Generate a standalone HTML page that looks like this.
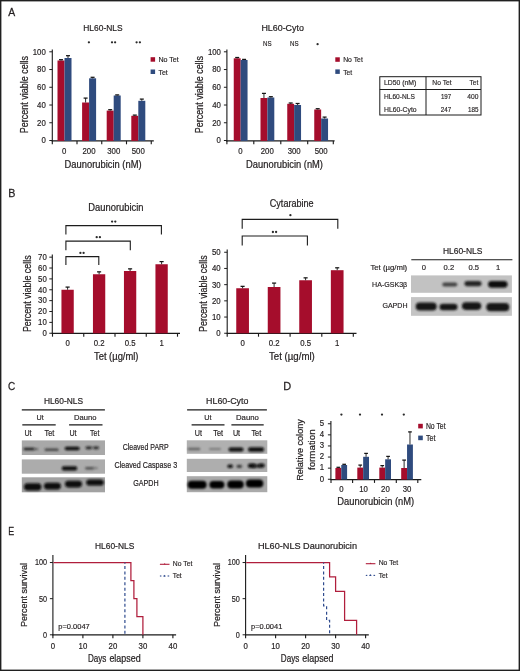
<!DOCTYPE html>
<html><head><meta charset="utf-8"><style>
html,body{margin:0;padding:0;background:#fff;}
svg{display:block;will-change:transform;}
text{font-family:"Liberation Sans",sans-serif;fill:#231f20;stroke:#231f20;}
</style></head><body>
<svg width="520" height="671" viewBox="0 0 520 671">
<defs>
<filter id="bl" x="-30%" y="-80%" width="160%" height="260%"><feGaussianBlur stdDeviation="0.9"/></filter>
<filter id="bl2" x="-30%" y="-80%" width="160%" height="260%"><feGaussianBlur stdDeviation="0.5"/></filter>
</defs>
<rect x="0" y="0" width="520" height="671" fill="#fff"/>
<text x="8.23" y="15.80" font-size="11.8" stroke-width="0.260" textLength="6.95" lengthAdjust="spacingAndGlyphs">A</text>
<text x="8.17" y="196.60" font-size="11.8" stroke-width="0.260" textLength="7.16" lengthAdjust="spacingAndGlyphs">B</text>
<text x="7.94" y="389.80" font-size="11.8" stroke-width="0.260" textLength="7.20" lengthAdjust="spacingAndGlyphs">C</text>
<text x="283.15" y="389.90" font-size="11.8" stroke-width="0.260" textLength="7.94" lengthAdjust="spacingAndGlyphs">D</text>
<text x="8.32" y="534.90" font-size="11.8" stroke-width="0.260" textLength="5.92" lengthAdjust="spacingAndGlyphs">E</text>
<line x1="52.30" y1="49.50" x2="52.30" y2="141.40" stroke="#1a1a1a" stroke-width="1.1"/>
<line x1="49.30" y1="140.50" x2="52.30" y2="140.50" stroke="#1a1a1a" stroke-width="0.9900000000000001"/>
<text x="41.46" y="143.35" font-size="8.3" stroke-width="0.183" textLength="4.34" lengthAdjust="spacingAndGlyphs">0</text>
<line x1="49.30" y1="122.76" x2="52.30" y2="122.76" stroke="#1a1a1a" stroke-width="0.9900000000000001"/>
<text x="37.12" y="125.61" font-size="8.3" stroke-width="0.183" textLength="8.68" lengthAdjust="spacingAndGlyphs">20</text>
<line x1="49.30" y1="105.02" x2="52.30" y2="105.02" stroke="#1a1a1a" stroke-width="0.9900000000000001"/>
<text x="37.12" y="107.87" font-size="8.3" stroke-width="0.183" textLength="8.68" lengthAdjust="spacingAndGlyphs">40</text>
<line x1="49.30" y1="87.28" x2="52.30" y2="87.28" stroke="#1a1a1a" stroke-width="0.9900000000000001"/>
<text x="37.12" y="90.13" font-size="8.3" stroke-width="0.183" textLength="8.68" lengthAdjust="spacingAndGlyphs">60</text>
<line x1="49.30" y1="69.54" x2="52.30" y2="69.54" stroke="#1a1a1a" stroke-width="0.9900000000000001"/>
<text x="37.12" y="72.39" font-size="8.3" stroke-width="0.183" textLength="8.68" lengthAdjust="spacingAndGlyphs">80</text>
<line x1="49.30" y1="51.80" x2="52.30" y2="51.80" stroke="#1a1a1a" stroke-width="0.9900000000000001"/>
<text x="32.79" y="54.65" font-size="8.3" stroke-width="0.183" textLength="13.01" lengthAdjust="spacingAndGlyphs">100</text>
<line x1="51.80" y1="140.90" x2="153.80" y2="140.90" stroke="#1a1a1a" stroke-width="1.25"/>
<line x1="52.30" y1="140.90" x2="52.30" y2="144.30" stroke="#1a1a1a" stroke-width="1.125"/>
<line x1="77.00" y1="140.90" x2="77.00" y2="144.30" stroke="#1a1a1a" stroke-width="1.125"/>
<line x1="101.75" y1="140.90" x2="101.75" y2="144.30" stroke="#1a1a1a" stroke-width="1.125"/>
<line x1="126.50" y1="140.90" x2="126.50" y2="144.30" stroke="#1a1a1a" stroke-width="1.125"/>
<line x1="151.25" y1="140.90" x2="151.25" y2="144.30" stroke="#1a1a1a" stroke-width="1.125"/>
<text x="62.08" y="154.20" font-size="8.3" stroke-width="0.183" textLength="4.34" lengthAdjust="spacingAndGlyphs">0</text>
<text x="82.49" y="154.20" font-size="8.3" stroke-width="0.183" textLength="13.01" lengthAdjust="spacingAndGlyphs">200</text>
<text x="107.24" y="154.20" font-size="8.3" stroke-width="0.183" textLength="13.01" lengthAdjust="spacingAndGlyphs">300</text>
<text x="131.74" y="154.20" font-size="8.3" stroke-width="0.183" textLength="13.01" lengthAdjust="spacingAndGlyphs">500</text>
<text x="64.60" y="167.70" font-size="10.01" stroke-width="0.220" textLength="77.00" lengthAdjust="spacingAndGlyphs">Daunorubicin (nM)</text>
<text x="28.00" y="133.20" font-size="10.16" stroke-width="0.224" textLength="77.30" lengthAdjust="spacingAndGlyphs" transform="rotate(-90 28.00 133.20)">Percent viable cells</text>
<text x="83.30" y="30.70" font-size="9.71" stroke-width="0.214" textLength="39.30" lengthAdjust="spacingAndGlyphs">HL60-NLS</text>
<rect x="57.50" y="60.50" width="7.00" height="80.40" fill="#a50d2c"/>
<rect x="64.50" y="58.00" width="7.00" height="82.90" fill="#2f4b7e"/>
<line x1="61.00" y1="60.50" x2="61.00" y2="59.60" stroke="#202020" stroke-width="0.95"/>
<line x1="59.00" y1="59.70" x2="63.00" y2="59.70" stroke="#151515" stroke-width="1.25"/>
<line x1="68.00" y1="58.00" x2="68.00" y2="55.60" stroke="#202020" stroke-width="0.95"/>
<line x1="66.00" y1="55.70" x2="70.00" y2="55.70" stroke="#151515" stroke-width="1.25"/>
<rect x="82.10" y="102.50" width="7.00" height="38.40" fill="#a50d2c"/>
<rect x="89.10" y="78.30" width="7.00" height="62.60" fill="#2f4b7e"/>
<line x1="85.60" y1="102.50" x2="85.60" y2="98.00" stroke="#202020" stroke-width="0.95"/>
<line x1="83.60" y1="98.10" x2="87.60" y2="98.10" stroke="#151515" stroke-width="1.25"/>
<line x1="92.60" y1="78.30" x2="92.60" y2="77.20" stroke="#202020" stroke-width="0.95"/>
<line x1="90.60" y1="77.30" x2="94.60" y2="77.30" stroke="#151515" stroke-width="1.25"/>
<rect x="106.70" y="110.60" width="7.00" height="30.30" fill="#a50d2c"/>
<rect x="113.70" y="95.50" width="7.00" height="45.40" fill="#2f4b7e"/>
<line x1="110.20" y1="110.60" x2="110.20" y2="109.60" stroke="#202020" stroke-width="0.95"/>
<line x1="108.20" y1="109.70" x2="112.20" y2="109.70" stroke="#151515" stroke-width="1.25"/>
<line x1="117.20" y1="95.50" x2="117.20" y2="94.80" stroke="#202020" stroke-width="0.95"/>
<line x1="115.20" y1="94.90" x2="119.20" y2="94.90" stroke="#151515" stroke-width="1.25"/>
<rect x="131.30" y="115.80" width="7.00" height="25.10" fill="#a50d2c"/>
<rect x="138.30" y="100.80" width="7.00" height="40.10" fill="#2f4b7e"/>
<line x1="134.80" y1="115.80" x2="134.80" y2="115.00" stroke="#202020" stroke-width="0.95"/>
<line x1="132.80" y1="115.10" x2="136.80" y2="115.10" stroke="#151515" stroke-width="1.25"/>
<line x1="141.80" y1="100.80" x2="141.80" y2="99.00" stroke="#202020" stroke-width="0.95"/>
<line x1="139.80" y1="99.10" x2="143.80" y2="99.10" stroke="#151515" stroke-width="1.25"/>
<circle cx="88.90" cy="42.30" r="1.15" fill="#2a2a2a"/>
<circle cx="112.00" cy="42.30" r="1.15" fill="#2a2a2a"/>
<circle cx="115.10" cy="42.30" r="1.15" fill="#2a2a2a"/>
<circle cx="136.60" cy="42.30" r="1.15" fill="#2a2a2a"/>
<circle cx="139.90" cy="42.30" r="1.15" fill="#2a2a2a"/>
<rect x="150.60" y="57.20" width="4.50" height="4.50" fill="#a50d2c"/>
<text x="158.40" y="62.10" font-size="8.07" stroke-width="0.178" textLength="20.40" lengthAdjust="spacingAndGlyphs">No Tet</text>
<rect x="150.60" y="69.50" width="4.50" height="4.50" fill="#2f4b7e"/>
<text x="158.40" y="74.50" font-size="8.07" stroke-width="0.178" textLength="9.40" lengthAdjust="spacingAndGlyphs">Tet</text>
<line x1="226.90" y1="49.50" x2="226.90" y2="141.40" stroke="#1a1a1a" stroke-width="1.1"/>
<line x1="223.90" y1="140.50" x2="226.90" y2="140.50" stroke="#1a1a1a" stroke-width="0.9900000000000001"/>
<text x="216.56" y="143.35" font-size="8.3" stroke-width="0.183" textLength="4.34" lengthAdjust="spacingAndGlyphs">0</text>
<line x1="223.90" y1="122.76" x2="226.90" y2="122.76" stroke="#1a1a1a" stroke-width="0.9900000000000001"/>
<text x="212.22" y="125.61" font-size="8.3" stroke-width="0.183" textLength="8.68" lengthAdjust="spacingAndGlyphs">20</text>
<line x1="223.90" y1="105.02" x2="226.90" y2="105.02" stroke="#1a1a1a" stroke-width="0.9900000000000001"/>
<text x="212.22" y="107.87" font-size="8.3" stroke-width="0.183" textLength="8.68" lengthAdjust="spacingAndGlyphs">40</text>
<line x1="223.90" y1="87.28" x2="226.90" y2="87.28" stroke="#1a1a1a" stroke-width="0.9900000000000001"/>
<text x="212.22" y="90.13" font-size="8.3" stroke-width="0.183" textLength="8.68" lengthAdjust="spacingAndGlyphs">60</text>
<line x1="223.90" y1="69.54" x2="226.90" y2="69.54" stroke="#1a1a1a" stroke-width="0.9900000000000001"/>
<text x="212.22" y="72.39" font-size="8.3" stroke-width="0.183" textLength="8.68" lengthAdjust="spacingAndGlyphs">80</text>
<line x1="223.90" y1="51.80" x2="226.90" y2="51.80" stroke="#1a1a1a" stroke-width="0.9900000000000001"/>
<text x="207.89" y="54.65" font-size="8.3" stroke-width="0.183" textLength="13.01" lengthAdjust="spacingAndGlyphs">100</text>
<line x1="226.40" y1="140.90" x2="334.60" y2="140.90" stroke="#1a1a1a" stroke-width="1.25"/>
<line x1="226.90" y1="140.90" x2="226.90" y2="144.30" stroke="#1a1a1a" stroke-width="1.125"/>
<line x1="253.80" y1="140.90" x2="253.80" y2="144.30" stroke="#1a1a1a" stroke-width="1.125"/>
<line x1="280.80" y1="140.90" x2="280.80" y2="144.30" stroke="#1a1a1a" stroke-width="1.125"/>
<line x1="307.70" y1="140.90" x2="307.70" y2="144.30" stroke="#1a1a1a" stroke-width="1.125"/>
<line x1="333.30" y1="140.90" x2="333.30" y2="144.30" stroke="#1a1a1a" stroke-width="1.125"/>
<text x="238.23" y="154.20" font-size="8.3" stroke-width="0.183" textLength="4.34" lengthAdjust="spacingAndGlyphs">0</text>
<text x="260.79" y="154.20" font-size="8.3" stroke-width="0.183" textLength="13.01" lengthAdjust="spacingAndGlyphs">200</text>
<text x="287.69" y="154.20" font-size="8.3" stroke-width="0.183" textLength="13.01" lengthAdjust="spacingAndGlyphs">300</text>
<text x="314.69" y="154.20" font-size="8.3" stroke-width="0.183" textLength="13.01" lengthAdjust="spacingAndGlyphs">500</text>
<text x="246.10" y="167.70" font-size="10.01" stroke-width="0.220" textLength="76.90" lengthAdjust="spacingAndGlyphs">Daunorubicin (nM)</text>
<text x="202.60" y="133.20" font-size="10.16" stroke-width="0.224" textLength="77.30" lengthAdjust="spacingAndGlyphs" transform="rotate(-90 202.60 133.20)">Percent viable cells</text>
<text x="261.40" y="30.70" font-size="9.71" stroke-width="0.214" textLength="42.50" lengthAdjust="spacingAndGlyphs">HL60-Cyto</text>
<rect x="233.75" y="58.30" width="6.90" height="82.60" fill="#a50d2c"/>
<rect x="240.65" y="60.00" width="6.90" height="80.90" fill="#2f4b7e"/>
<line x1="237.20" y1="58.30" x2="237.20" y2="57.40" stroke="#202020" stroke-width="0.95"/>
<line x1="235.20" y1="57.50" x2="239.20" y2="57.50" stroke="#151515" stroke-width="1.25"/>
<line x1="244.10" y1="60.00" x2="244.10" y2="59.30" stroke="#202020" stroke-width="0.95"/>
<line x1="242.10" y1="59.40" x2="246.10" y2="59.40" stroke="#151515" stroke-width="1.25"/>
<rect x="260.50" y="98.00" width="6.90" height="42.90" fill="#a50d2c"/>
<rect x="267.40" y="97.50" width="6.90" height="43.40" fill="#2f4b7e"/>
<line x1="263.95" y1="98.00" x2="263.95" y2="93.30" stroke="#202020" stroke-width="0.95"/>
<line x1="261.95" y1="93.40" x2="265.95" y2="93.40" stroke="#151515" stroke-width="1.25"/>
<line x1="270.85" y1="97.50" x2="270.85" y2="96.60" stroke="#202020" stroke-width="0.95"/>
<line x1="268.85" y1="96.70" x2="272.85" y2="96.70" stroke="#151515" stroke-width="1.25"/>
<rect x="287.25" y="103.80" width="6.90" height="37.10" fill="#a50d2c"/>
<rect x="294.15" y="105.00" width="6.90" height="35.90" fill="#2f4b7e"/>
<line x1="290.70" y1="103.80" x2="290.70" y2="102.90" stroke="#202020" stroke-width="0.95"/>
<line x1="288.70" y1="103.00" x2="292.70" y2="103.00" stroke="#151515" stroke-width="1.25"/>
<line x1="297.60" y1="105.00" x2="297.60" y2="103.40" stroke="#202020" stroke-width="0.95"/>
<line x1="295.60" y1="103.50" x2="299.60" y2="103.50" stroke="#151515" stroke-width="1.25"/>
<rect x="314.25" y="109.50" width="6.90" height="31.40" fill="#a50d2c"/>
<rect x="321.15" y="118.50" width="6.90" height="22.40" fill="#2f4b7e"/>
<line x1="317.70" y1="109.50" x2="317.70" y2="108.60" stroke="#202020" stroke-width="0.95"/>
<line x1="315.70" y1="108.70" x2="319.70" y2="108.70" stroke="#151515" stroke-width="1.25"/>
<line x1="324.60" y1="118.50" x2="324.60" y2="117.00" stroke="#202020" stroke-width="0.95"/>
<line x1="322.60" y1="117.10" x2="326.60" y2="117.10" stroke="#151515" stroke-width="1.25"/>
<text x="263.00" y="46.10" font-size="7.32" stroke-width="0.161" textLength="8.60" lengthAdjust="spacingAndGlyphs">NS</text>
<text x="290.00" y="46.10" font-size="7.32" stroke-width="0.161" textLength="8.60" lengthAdjust="spacingAndGlyphs">NS</text>
<circle cx="317.60" cy="44.20" r="1.15" fill="#2a2a2a"/>
<rect x="335.30" y="57.30" width="4.50" height="4.50" fill="#a50d2c"/>
<text x="343.20" y="62.10" font-size="8.07" stroke-width="0.178" textLength="19.60" lengthAdjust="spacingAndGlyphs">No Tet</text>
<rect x="335.30" y="69.40" width="4.50" height="4.50" fill="#2f4b7e"/>
<text x="343.20" y="74.50" font-size="8.07" stroke-width="0.178" textLength="9.00" lengthAdjust="spacingAndGlyphs">Tet</text>
<rect x="379.8" y="76.7" width="101.2" height="38.3" fill="none" stroke="#1a1a1a" stroke-width="1"/>
<line x1="379.80" y1="89.50" x2="481.00" y2="89.50" stroke="#1a1a1a" stroke-width="1.0"/>
<line x1="426.00" y1="76.70" x2="426.00" y2="115.00" stroke="#1a1a1a" stroke-width="1.0"/>
<text x="384.00" y="85.40" font-size="8.07" stroke-width="0.178" textLength="32.30" lengthAdjust="spacingAndGlyphs">LD50 (nM)</text>
<text x="384.00" y="99.40" font-size="8.07" stroke-width="0.178" textLength="30.80" lengthAdjust="spacingAndGlyphs">HL60-NLS</text>
<text x="384.00" y="111.50" font-size="8.07" stroke-width="0.178" textLength="32.60" lengthAdjust="spacingAndGlyphs">HL60-Cyto</text>
<text x="432.30" y="85.40" font-size="8.07" stroke-width="0.178" textLength="19.30" lengthAdjust="spacingAndGlyphs">No Tet</text>
<text x="469.60" y="85.40" font-size="8.07" stroke-width="0.178" textLength="8.70" lengthAdjust="spacingAndGlyphs">Tet</text>
<text x="440.90" y="99.40" font-size="8.07" stroke-width="0.178" textLength="10.30" lengthAdjust="spacingAndGlyphs">197</text>
<text x="467.30" y="99.40" font-size="8.07" stroke-width="0.178" textLength="11.10" lengthAdjust="spacingAndGlyphs">400</text>
<text x="440.70" y="111.70" font-size="8.07" stroke-width="0.178" textLength="10.50" lengthAdjust="spacingAndGlyphs">247</text>
<text x="467.90" y="111.70" font-size="8.07" stroke-width="0.178" textLength="10.50" lengthAdjust="spacingAndGlyphs">185</text>
<line x1="52.30" y1="254.50" x2="52.30" y2="333.80" stroke="#1a1a1a" stroke-width="1.1"/>
<line x1="49.30" y1="333.25" x2="52.30" y2="333.25" stroke="#1a1a1a" stroke-width="0.9900000000000001"/>
<text x="42.46" y="336.10" font-size="8.3" stroke-width="0.183" textLength="4.34" lengthAdjust="spacingAndGlyphs">0</text>
<line x1="49.30" y1="322.38" x2="52.30" y2="322.38" stroke="#1a1a1a" stroke-width="0.9900000000000001"/>
<text x="38.12" y="325.23" font-size="8.3" stroke-width="0.183" textLength="8.68" lengthAdjust="spacingAndGlyphs">10</text>
<line x1="49.30" y1="311.51" x2="52.30" y2="311.51" stroke="#1a1a1a" stroke-width="0.9900000000000001"/>
<text x="38.12" y="314.36" font-size="8.3" stroke-width="0.183" textLength="8.68" lengthAdjust="spacingAndGlyphs">20</text>
<line x1="49.30" y1="300.64" x2="52.30" y2="300.64" stroke="#1a1a1a" stroke-width="0.9900000000000001"/>
<text x="38.12" y="303.49" font-size="8.3" stroke-width="0.183" textLength="8.68" lengthAdjust="spacingAndGlyphs">30</text>
<line x1="49.30" y1="289.77" x2="52.30" y2="289.77" stroke="#1a1a1a" stroke-width="0.9900000000000001"/>
<text x="38.12" y="292.62" font-size="8.3" stroke-width="0.183" textLength="8.68" lengthAdjust="spacingAndGlyphs">40</text>
<line x1="49.30" y1="278.90" x2="52.30" y2="278.90" stroke="#1a1a1a" stroke-width="0.9900000000000001"/>
<text x="38.12" y="281.75" font-size="8.3" stroke-width="0.183" textLength="8.68" lengthAdjust="spacingAndGlyphs">50</text>
<line x1="49.30" y1="268.03" x2="52.30" y2="268.03" stroke="#1a1a1a" stroke-width="0.9900000000000001"/>
<text x="38.12" y="270.88" font-size="8.3" stroke-width="0.183" textLength="8.68" lengthAdjust="spacingAndGlyphs">60</text>
<line x1="49.30" y1="257.16" x2="52.30" y2="257.16" stroke="#1a1a1a" stroke-width="0.9900000000000001"/>
<text x="38.12" y="260.01" font-size="8.3" stroke-width="0.183" textLength="8.68" lengthAdjust="spacingAndGlyphs">70</text>
<line x1="51.80" y1="333.30" x2="180.00" y2="333.30" stroke="#1a1a1a" stroke-width="1.25"/>
<line x1="52.50" y1="333.30" x2="52.50" y2="336.70" stroke="#1a1a1a" stroke-width="1.125"/>
<line x1="83.75" y1="333.30" x2="83.75" y2="336.70" stroke="#1a1a1a" stroke-width="1.125"/>
<line x1="115.00" y1="333.30" x2="115.00" y2="336.70" stroke="#1a1a1a" stroke-width="1.125"/>
<line x1="146.25" y1="333.30" x2="146.25" y2="336.70" stroke="#1a1a1a" stroke-width="1.125"/>
<line x1="177.50" y1="333.30" x2="177.50" y2="336.70" stroke="#1a1a1a" stroke-width="1.125"/>
<text x="65.43" y="346.30" font-size="8.3" stroke-width="0.183" textLength="4.34" lengthAdjust="spacingAndGlyphs">0</text>
<text x="93.68" y="346.30" font-size="8.3" stroke-width="0.183" textLength="10.84" lengthAdjust="spacingAndGlyphs">0.2</text>
<text x="124.68" y="346.30" font-size="8.3" stroke-width="0.183" textLength="10.84" lengthAdjust="spacingAndGlyphs">0.5</text>
<text x="159.43" y="346.30" font-size="8.3" stroke-width="0.183" textLength="4.34" lengthAdjust="spacingAndGlyphs">1</text>
<text x="94.00" y="360.40" font-size="10.16" stroke-width="0.224" textLength="44.50" lengthAdjust="spacingAndGlyphs">Tet (µg/ml)</text>
<text x="31.40" y="332.10" font-size="10.16" stroke-width="0.224" textLength="76.80" lengthAdjust="spacingAndGlyphs" transform="rotate(-90 31.40 332.10)">Percent viable cells</text>
<text x="88.30" y="210.90" font-size="10.01" stroke-width="0.220" textLength="55.20" lengthAdjust="spacingAndGlyphs">Daunorubicin</text>
<rect x="61.45" y="289.75" width="12.30" height="43.55" fill="#a50d2c"/>
<line x1="67.60" y1="289.75" x2="67.60" y2="287.00" stroke="#202020" stroke-width="0.95"/>
<line x1="65.55" y1="287.10" x2="69.65" y2="287.10" stroke="#151515" stroke-width="1.25"/>
<rect x="92.95" y="274.25" width="12.30" height="59.05" fill="#a50d2c"/>
<line x1="99.10" y1="274.25" x2="99.10" y2="271.75" stroke="#202020" stroke-width="0.95"/>
<line x1="97.05" y1="271.85" x2="101.15" y2="271.85" stroke="#151515" stroke-width="1.25"/>
<rect x="123.95" y="271.00" width="12.30" height="62.30" fill="#a50d2c"/>
<line x1="130.10" y1="271.00" x2="130.10" y2="268.75" stroke="#202020" stroke-width="0.95"/>
<line x1="128.05" y1="268.85" x2="132.15" y2="268.85" stroke="#151515" stroke-width="1.25"/>
<rect x="155.45" y="264.25" width="12.30" height="69.05" fill="#a50d2c"/>
<line x1="161.60" y1="264.25" x2="161.60" y2="261.50" stroke="#202020" stroke-width="0.95"/>
<line x1="159.55" y1="261.60" x2="163.65" y2="261.60" stroke="#151515" stroke-width="1.25"/>
<path d="M65.90,234.60 V225.60 H161.40 V234.60" fill="none" stroke="#1c1c1c" stroke-width="1.1"/>
<path d="M65.90,250.20 V241.10 H130.30 V250.20" fill="none" stroke="#1c1c1c" stroke-width="1.1"/>
<path d="M65.90,265.10 V256.60 H98.80 V265.10" fill="none" stroke="#1c1c1c" stroke-width="1.1"/>
<circle cx="112.10" cy="221.60" r="1.15" fill="#2a2a2a"/>
<circle cx="115.30" cy="221.60" r="1.15" fill="#2a2a2a"/>
<circle cx="96.70" cy="237.20" r="1.15" fill="#2a2a2a"/>
<circle cx="99.90" cy="237.20" r="1.15" fill="#2a2a2a"/>
<circle cx="80.40" cy="252.90" r="1.15" fill="#2a2a2a"/>
<circle cx="83.60" cy="252.90" r="1.15" fill="#2a2a2a"/>
<line x1="227.20" y1="249.50" x2="227.20" y2="333.80" stroke="#1a1a1a" stroke-width="1.1"/>
<line x1="224.20" y1="333.25" x2="227.20" y2="333.25" stroke="#1a1a1a" stroke-width="0.9900000000000001"/>
<text x="216.26" y="336.10" font-size="8.3" stroke-width="0.183" textLength="4.34" lengthAdjust="spacingAndGlyphs">0</text>
<line x1="224.20" y1="317.05" x2="227.20" y2="317.05" stroke="#1a1a1a" stroke-width="0.9900000000000001"/>
<text x="211.92" y="319.90" font-size="8.3" stroke-width="0.183" textLength="8.68" lengthAdjust="spacingAndGlyphs">10</text>
<line x1="224.20" y1="300.85" x2="227.20" y2="300.85" stroke="#1a1a1a" stroke-width="0.9900000000000001"/>
<text x="211.92" y="303.70" font-size="8.3" stroke-width="0.183" textLength="8.68" lengthAdjust="spacingAndGlyphs">20</text>
<line x1="224.20" y1="284.65" x2="227.20" y2="284.65" stroke="#1a1a1a" stroke-width="0.9900000000000001"/>
<text x="211.92" y="287.50" font-size="8.3" stroke-width="0.183" textLength="8.68" lengthAdjust="spacingAndGlyphs">30</text>
<line x1="224.20" y1="268.45" x2="227.20" y2="268.45" stroke="#1a1a1a" stroke-width="0.9900000000000001"/>
<text x="211.92" y="271.30" font-size="8.3" stroke-width="0.183" textLength="8.68" lengthAdjust="spacingAndGlyphs">40</text>
<line x1="224.20" y1="252.25" x2="227.20" y2="252.25" stroke="#1a1a1a" stroke-width="0.9900000000000001"/>
<text x="211.92" y="255.10" font-size="8.3" stroke-width="0.183" textLength="8.68" lengthAdjust="spacingAndGlyphs">50</text>
<line x1="226.70" y1="333.30" x2="356.50" y2="333.30" stroke="#1a1a1a" stroke-width="1.25"/>
<line x1="227.20" y1="333.30" x2="227.20" y2="336.70" stroke="#1a1a1a" stroke-width="1.125"/>
<line x1="258.50" y1="333.30" x2="258.50" y2="336.70" stroke="#1a1a1a" stroke-width="1.125"/>
<line x1="290.10" y1="333.30" x2="290.10" y2="336.70" stroke="#1a1a1a" stroke-width="1.125"/>
<line x1="321.80" y1="333.30" x2="321.80" y2="336.70" stroke="#1a1a1a" stroke-width="1.125"/>
<line x1="353.30" y1="333.30" x2="353.30" y2="336.70" stroke="#1a1a1a" stroke-width="1.125"/>
<text x="240.43" y="346.30" font-size="8.3" stroke-width="0.183" textLength="4.34" lengthAdjust="spacingAndGlyphs">0</text>
<text x="268.68" y="346.30" font-size="8.3" stroke-width="0.183" textLength="10.84" lengthAdjust="spacingAndGlyphs">0.2</text>
<text x="300.18" y="346.30" font-size="8.3" stroke-width="0.183" textLength="10.84" lengthAdjust="spacingAndGlyphs">0.5</text>
<text x="335.03" y="346.30" font-size="8.3" stroke-width="0.183" textLength="4.34" lengthAdjust="spacingAndGlyphs">1</text>
<text x="269.00" y="360.00" font-size="10.16" stroke-width="0.224" textLength="45.80" lengthAdjust="spacingAndGlyphs">Tet (µg/ml)</text>
<text x="206.60" y="331.90" font-size="10.16" stroke-width="0.224" textLength="76.50" lengthAdjust="spacingAndGlyphs" transform="rotate(-90 206.60 331.90)">Percent viable cells</text>
<text x="269.80" y="207.10" font-size="10.01" stroke-width="0.220" textLength="43.80" lengthAdjust="spacingAndGlyphs">Cytarabine</text>
<rect x="236.25" y="288.25" width="12.70" height="45.05" fill="#a50d2c"/>
<line x1="242.60" y1="288.25" x2="242.60" y2="286.25" stroke="#202020" stroke-width="0.95"/>
<line x1="240.55" y1="286.35" x2="244.65" y2="286.35" stroke="#151515" stroke-width="1.25"/>
<rect x="267.75" y="287.00" width="12.70" height="46.30" fill="#a50d2c"/>
<line x1="274.10" y1="287.00" x2="274.10" y2="283.00" stroke="#202020" stroke-width="0.95"/>
<line x1="272.05" y1="283.10" x2="276.15" y2="283.10" stroke="#151515" stroke-width="1.25"/>
<rect x="299.25" y="280.25" width="12.70" height="53.05" fill="#a50d2c"/>
<line x1="305.60" y1="280.25" x2="305.60" y2="277.75" stroke="#202020" stroke-width="0.95"/>
<line x1="303.55" y1="277.85" x2="307.65" y2="277.85" stroke="#151515" stroke-width="1.25"/>
<rect x="330.85" y="270.20" width="12.70" height="63.10" fill="#a50d2c"/>
<line x1="337.20" y1="270.20" x2="337.20" y2="267.70" stroke="#202020" stroke-width="0.95"/>
<line x1="335.15" y1="267.80" x2="339.25" y2="267.80" stroke="#151515" stroke-width="1.25"/>
<path d="M242.20,228.80 V219.40 H337.80 V228.80" fill="none" stroke="#1c1c1c" stroke-width="1.1"/>
<path d="M242.20,245.50 V236.00 H307.40 V245.50" fill="none" stroke="#1c1c1c" stroke-width="1.1"/>
<circle cx="290.40" cy="215.20" r="1.15" fill="#2a2a2a"/>
<circle cx="272.90" cy="232.00" r="1.15" fill="#2a2a2a"/>
<circle cx="276.10" cy="232.00" r="1.15" fill="#2a2a2a"/>
<text x="442.90" y="253.80" font-size="9.71" stroke-width="0.214" textLength="39.50" lengthAdjust="spacingAndGlyphs">HL60-NLS</text>
<line x1="411.30" y1="259.70" x2="512.40" y2="259.70" stroke="#1a1a1a" stroke-width="1.1"/>
<text x="423.80" y="269.90" font-size="7.6" stroke-width="0.167" text-anchor="middle">0</text>
<text x="448.90" y="269.90" font-size="7.6" stroke-width="0.167" text-anchor="middle">0.2</text>
<text x="473.80" y="269.90" font-size="7.6" stroke-width="0.167" text-anchor="middle">0.5</text>
<text x="498.00" y="269.90" font-size="7.6" stroke-width="0.167" text-anchor="middle">1</text>
<text x="370.40" y="269.70" font-size="8.07" stroke-width="0.178" textLength="36.80" lengthAdjust="spacingAndGlyphs">Tet (µg/ml)</text>
<text x="372.10" y="286.90" font-size="8.07" stroke-width="0.178" textLength="35.10" lengthAdjust="spacingAndGlyphs">HA-GSK3β</text>
<text x="382.40" y="308.40" font-size="7.92" stroke-width="0.174" textLength="25.10" lengthAdjust="spacingAndGlyphs">GAPDH</text>
<rect x="411.00" y="275.40" width="100.90" height="17.40" fill="#c2c2c2"/>
<rect x="411.00" y="297.10" width="100.90" height="18.70" fill="#c4c4c4"/>
<rect x="442.30" y="282.40" width="15.00" height="4.00" rx="2.00" fill="#2e2e2e" opacity="0.85" filter="url(#bl)"/>
<rect x="464.50" y="281.00" width="17.00" height="5.20" rx="2.60" fill="#1a1a1a" opacity="0.95" filter="url(#bl)"/>
<rect x="488.05" y="280.90" width="19.50" height="6.80" rx="3.40" fill="#0e0e0e" opacity="1.0" filter="url(#bl)"/>
<rect x="415.70" y="302.50" width="21.00" height="8.00" rx="4.00" fill="#141414" opacity="1.0" filter="url(#bl)"/>
<rect x="439.50" y="303.70" width="18.00" height="6.60" rx="3.30" fill="#141414" opacity="1.0" filter="url(#bl)"/>
<rect x="461.90" y="302.30" width="19.40" height="7.60" rx="3.80" fill="#141414" opacity="1.0" filter="url(#bl)"/>
<rect x="486.30" y="303.10" width="23.00" height="8.20" rx="4.10" fill="#141414" opacity="1.0" filter="url(#bl)"/>
<text x="43.90" y="404.00" font-size="9.41" stroke-width="0.207" textLength="39.20" lengthAdjust="spacingAndGlyphs">HL60-NLS</text>
<line x1="21.80" y1="409.80" x2="104.90" y2="409.80" stroke="#1a1a1a" stroke-width="1.2"/>
<text x="36.50" y="420.10" font-size="8.07" stroke-width="0.178" textLength="7.20" lengthAdjust="spacingAndGlyphs">Ut</text>
<text x="74.00" y="420.10" font-size="8.07" stroke-width="0.178" textLength="22.40" lengthAdjust="spacingAndGlyphs">Dauno</text>
<line x1="22.30" y1="424.80" x2="55.70" y2="424.80" stroke="#1a1a1a" stroke-width="1.15"/>
<line x1="69.10" y1="424.80" x2="102.50" y2="424.80" stroke="#1a1a1a" stroke-width="1.15"/>
<text x="24.40" y="435.60" font-size="8.22" stroke-width="0.181" textLength="7.10" lengthAdjust="spacingAndGlyphs">Ut</text>
<text x="44.60" y="435.60" font-size="8.22" stroke-width="0.181" textLength="9.80" lengthAdjust="spacingAndGlyphs">Tet</text>
<text x="69.40" y="435.60" font-size="8.22" stroke-width="0.181" textLength="7.10" lengthAdjust="spacingAndGlyphs">Ut</text>
<text x="90.10" y="435.60" font-size="8.22" stroke-width="0.181" textLength="9.30" lengthAdjust="spacingAndGlyphs">Tet</text>
<text x="206.10" y="404.00" font-size="9.41" stroke-width="0.207" textLength="42.30" lengthAdjust="spacingAndGlyphs">HL60-Cyto</text>
<line x1="187.10" y1="409.80" x2="266.90" y2="409.80" stroke="#1a1a1a" stroke-width="1.2"/>
<text x="204.30" y="420.10" font-size="8.07" stroke-width="0.178" textLength="7.20" lengthAdjust="spacingAndGlyphs">Ut</text>
<text x="236.00" y="420.10" font-size="8.07" stroke-width="0.178" textLength="22.80" lengthAdjust="spacingAndGlyphs">Dauno</text>
<line x1="191.60" y1="424.80" x2="224.50" y2="424.80" stroke="#1a1a1a" stroke-width="1.15"/>
<line x1="231.40" y1="424.80" x2="263.70" y2="424.80" stroke="#1a1a1a" stroke-width="1.15"/>
<text x="194.80" y="435.60" font-size="8.22" stroke-width="0.181" textLength="7.20" lengthAdjust="spacingAndGlyphs">Ut</text>
<text x="213.30" y="435.60" font-size="8.22" stroke-width="0.181" textLength="9.80" lengthAdjust="spacingAndGlyphs">Tet</text>
<text x="232.90" y="435.60" font-size="8.22" stroke-width="0.181" textLength="7.20" lengthAdjust="spacingAndGlyphs">Ut</text>
<text x="251.40" y="435.60" font-size="8.22" stroke-width="0.181" textLength="9.80" lengthAdjust="spacingAndGlyphs">Tet</text>
<text x="122.80" y="450.20" font-size="8.67" stroke-width="0.191" textLength="45.90" lengthAdjust="spacingAndGlyphs">Cleaved PARP</text>
<text x="114.50" y="468.20" font-size="8.67" stroke-width="0.191" textLength="62.70" lengthAdjust="spacingAndGlyphs">Cleaved Caspase 3</text>
<text x="133.30" y="486.40" font-size="8.67" stroke-width="0.191" textLength="25.40" lengthAdjust="spacingAndGlyphs">GAPDH</text>
<rect x="21.80" y="440.40" width="83.20" height="14.60" fill="#a8a8a8"/>
<rect x="21.80" y="459.40" width="83.20" height="14.30" fill="#acacac"/>
<rect x="21.80" y="477.30" width="83.20" height="15.00" fill="#a2a2a2"/>
<rect x="23.50" y="447.80" width="11.00" height="2.40" rx="1.20" fill="#151515" opacity="0.95" filter="url(#bl)"/>
<rect x="33.75" y="448.30" width="4.50" height="1.80" rx="0.90" fill="#404040" opacity="0.8" filter="url(#bl)"/>
<rect x="44.60" y="448.60" width="14.00" height="2.40" rx="1.20" fill="#303030" opacity="0.85" filter="url(#bl)"/>
<rect x="64.70" y="446.70" width="15.00" height="3.60" rx="1.80" fill="#0a0a0a" opacity="1.0" filter="url(#bl)"/>
<rect x="85.55" y="446.40" width="6.50" height="2.80" rx="1.40" fill="#151515" opacity="0.9" filter="url(#bl)"/>
<rect x="93.00" y="446.40" width="6.00" height="2.80" rx="1.40" fill="#151515" opacity="0.85" filter="url(#bl)"/>
<rect x="61.75" y="466.30" width="15.50" height="4.20" rx="2.10" fill="#0a0a0a" opacity="1.0" filter="url(#bl)"/>
<rect x="85.25" y="467.00" width="8.50" height="2.40" rx="1.20" fill="#353535" opacity="0.8" filter="url(#bl)"/>
<rect x="93.00" y="467.30" width="5.00" height="1.80" rx="0.90" fill="#555555" opacity="0.6" filter="url(#bl)"/>
<rect x="23.95" y="483.20" width="17.50" height="7.20" rx="3.60" fill="#0a0a0a" opacity="1.0" filter="url(#bl)"/>
<rect x="43.90" y="482.70" width="17.00" height="6.80" rx="3.40" fill="#0a0a0a" opacity="1.0" filter="url(#bl)"/>
<rect x="65.00" y="480.80" width="17.00" height="6.60" rx="3.30" fill="#0a0a0a" opacity="1.0" filter="url(#bl)"/>
<rect x="86.25" y="479.40" width="17.50" height="6.20" rx="3.10" fill="#0a0a0a" opacity="1.0" filter="url(#bl)"/>
<rect x="186.80" y="440.30" width="80.50" height="13.50" fill="#b0b0b0"/>
<rect x="186.80" y="458.80" width="80.50" height="13.20" fill="#aeaeae"/>
<rect x="186.80" y="476.20" width="80.50" height="16.00" fill="#aaaaaa"/>
<rect x="187.75" y="447.80" width="12.50" height="2.40" rx="1.20" fill="#555555" opacity="0.85" filter="url(#bl)"/>
<rect x="209.00" y="447.90" width="12.00" height="2.20" rx="1.10" fill="#666666" opacity="0.75" filter="url(#bl)"/>
<rect x="228.50" y="447.50" width="15.00" height="4.00" rx="2.00" fill="#0a0a0a" opacity="1.0" filter="url(#bl)"/>
<rect x="248.10" y="447.30" width="16.00" height="4.40" rx="2.20" fill="#0a0a0a" opacity="1.0" filter="url(#bl)"/>
<rect x="227.40" y="464.50" width="5.60" height="3.60" rx="1.80" fill="#101010" opacity="1.0" filter="url(#bl)"/>
<rect x="236.50" y="464.70" width="5.60" height="3.20" rx="1.60" fill="#303030" opacity="0.9" filter="url(#bl)"/>
<rect x="247.80" y="463.50" width="8.00" height="4.60" rx="2.30" fill="#0a0a0a" opacity="1.0" filter="url(#bl)"/>
<rect x="252.50" y="464.40" width="8.00" height="3.20" rx="1.60" fill="#1a1a1a" opacity="0.95" filter="url(#bl)"/>
<rect x="258.25" y="463.50" width="6.50" height="4.20" rx="2.10" fill="#0a0a0a" opacity="1.0" filter="url(#bl)"/>
<rect x="187.60" y="480.80" width="19.00" height="8.00" rx="4.00" fill="#050505" opacity="1.0" filter="url(#bl)"/>
<rect x="209.40" y="481.05" width="15.00" height="7.50" rx="3.75" fill="#050505" opacity="1.0" filter="url(#bl)"/>
<rect x="227.25" y="480.50" width="16.50" height="8.00" rx="4.00" fill="#050505" opacity="1.0" filter="url(#bl)"/>
<rect x="245.85" y="479.60" width="17.50" height="8.00" rx="4.00" fill="#050505" opacity="1.0" filter="url(#bl)"/>
<line x1="330.90" y1="421.00" x2="330.90" y2="480.00" stroke="#1a1a1a" stroke-width="1.1"/>
<line x1="327.90" y1="479.25" x2="330.90" y2="479.25" stroke="#1a1a1a" stroke-width="0.9900000000000001"/>
<text x="319.66" y="481.50" font-size="8.3" stroke-width="0.183" textLength="4.34" lengthAdjust="spacingAndGlyphs">0</text>
<line x1="327.90" y1="468.15" x2="330.90" y2="468.15" stroke="#1a1a1a" stroke-width="0.9900000000000001"/>
<text x="319.66" y="470.40" font-size="8.3" stroke-width="0.183" textLength="4.34" lengthAdjust="spacingAndGlyphs">1</text>
<line x1="327.90" y1="457.05" x2="330.90" y2="457.05" stroke="#1a1a1a" stroke-width="0.9900000000000001"/>
<text x="319.66" y="459.30" font-size="8.3" stroke-width="0.183" textLength="4.34" lengthAdjust="spacingAndGlyphs">2</text>
<line x1="327.90" y1="445.95" x2="330.90" y2="445.95" stroke="#1a1a1a" stroke-width="0.9900000000000001"/>
<text x="319.66" y="448.20" font-size="8.3" stroke-width="0.183" textLength="4.34" lengthAdjust="spacingAndGlyphs">3</text>
<line x1="327.90" y1="434.85" x2="330.90" y2="434.85" stroke="#1a1a1a" stroke-width="0.9900000000000001"/>
<text x="319.66" y="437.10" font-size="8.3" stroke-width="0.183" textLength="4.34" lengthAdjust="spacingAndGlyphs">4</text>
<line x1="327.90" y1="423.75" x2="330.90" y2="423.75" stroke="#1a1a1a" stroke-width="0.9900000000000001"/>
<text x="319.66" y="426.00" font-size="8.3" stroke-width="0.183" textLength="4.34" lengthAdjust="spacingAndGlyphs">5</text>
<line x1="330.40" y1="479.50" x2="421.30" y2="479.50" stroke="#1a1a1a" stroke-width="1.25"/>
<line x1="331.00" y1="479.50" x2="331.00" y2="482.90" stroke="#1a1a1a" stroke-width="1.125"/>
<line x1="352.60" y1="479.50" x2="352.60" y2="482.90" stroke="#1a1a1a" stroke-width="1.125"/>
<line x1="374.50" y1="479.50" x2="374.50" y2="482.90" stroke="#1a1a1a" stroke-width="1.125"/>
<line x1="396.30" y1="479.50" x2="396.30" y2="482.90" stroke="#1a1a1a" stroke-width="1.125"/>
<line x1="417.80" y1="479.50" x2="417.80" y2="482.90" stroke="#1a1a1a" stroke-width="1.125"/>
<text x="339.13" y="492.40" font-size="8.3" stroke-width="0.183" textLength="4.34" lengthAdjust="spacingAndGlyphs">0</text>
<text x="359.26" y="492.40" font-size="8.3" stroke-width="0.183" textLength="8.68" lengthAdjust="spacingAndGlyphs">10</text>
<text x="381.06" y="492.40" font-size="8.3" stroke-width="0.183" textLength="8.68" lengthAdjust="spacingAndGlyphs">20</text>
<text x="402.76" y="492.40" font-size="8.3" stroke-width="0.183" textLength="8.68" lengthAdjust="spacingAndGlyphs">30</text>
<text x="337.30" y="505.40" font-size="10.01" stroke-width="0.220" textLength="76.90" lengthAdjust="spacingAndGlyphs">Daunorubicin (nM)</text>
<text x="303.20" y="480.80" font-size="9.86" stroke-width="0.217" textLength="61.60" lengthAdjust="spacingAndGlyphs" transform="rotate(-90 303.20 480.80)">Relative colony</text>
<text x="314.50" y="470.00" font-size="9.86" stroke-width="0.217" textLength="40.60" lengthAdjust="spacingAndGlyphs" transform="rotate(-90 314.50 470.00)">formation</text>
<rect x="335.40" y="468.00" width="5.85" height="11.50" fill="#a50d2c"/>
<rect x="341.25" y="465.00" width="5.85" height="14.50" fill="#2f4b7e"/>
<line x1="338.32" y1="468.00" x2="338.32" y2="467.20" stroke="#202020" stroke-width="0.95"/>
<line x1="336.47" y1="467.30" x2="340.18" y2="467.30" stroke="#151515" stroke-width="1.25"/>
<line x1="344.17" y1="465.00" x2="344.17" y2="464.20" stroke="#202020" stroke-width="0.95"/>
<line x1="342.32" y1="464.30" x2="346.02" y2="464.30" stroke="#151515" stroke-width="1.25"/>
<rect x="357.30" y="467.60" width="5.85" height="11.90" fill="#a50d2c"/>
<rect x="363.15" y="456.80" width="5.85" height="22.70" fill="#2f4b7e"/>
<line x1="360.23" y1="467.60" x2="360.23" y2="465.00" stroke="#202020" stroke-width="0.95"/>
<line x1="358.38" y1="465.10" x2="362.08" y2="465.10" stroke="#151515" stroke-width="1.25"/>
<line x1="366.07" y1="456.80" x2="366.07" y2="453.30" stroke="#202020" stroke-width="0.95"/>
<line x1="364.22" y1="453.40" x2="367.93" y2="453.40" stroke="#151515" stroke-width="1.25"/>
<rect x="379.30" y="467.60" width="5.85" height="11.90" fill="#a50d2c"/>
<rect x="385.15" y="459.30" width="5.85" height="20.20" fill="#2f4b7e"/>
<line x1="382.23" y1="467.60" x2="382.23" y2="465.50" stroke="#202020" stroke-width="0.95"/>
<line x1="380.38" y1="465.60" x2="384.08" y2="465.60" stroke="#151515" stroke-width="1.25"/>
<line x1="388.07" y1="459.30" x2="388.07" y2="456.30" stroke="#202020" stroke-width="0.95"/>
<line x1="386.22" y1="456.40" x2="389.93" y2="456.40" stroke="#151515" stroke-width="1.25"/>
<rect x="401.20" y="468.00" width="5.85" height="11.50" fill="#a50d2c"/>
<rect x="407.05" y="444.50" width="5.85" height="35.00" fill="#2f4b7e"/>
<line x1="404.12" y1="468.00" x2="404.12" y2="460.00" stroke="#202020" stroke-width="0.95"/>
<line x1="402.27" y1="460.10" x2="405.98" y2="460.10" stroke="#151515" stroke-width="1.25"/>
<line x1="409.97" y1="444.50" x2="409.97" y2="431.80" stroke="#202020" stroke-width="0.95"/>
<line x1="408.12" y1="431.90" x2="411.82" y2="431.90" stroke="#151515" stroke-width="1.25"/>
<circle cx="341.40" cy="414.60" r="1.15" fill="#2a2a2a"/>
<circle cx="360.00" cy="414.60" r="1.15" fill="#2a2a2a"/>
<circle cx="382.00" cy="414.60" r="1.15" fill="#2a2a2a"/>
<circle cx="403.80" cy="414.60" r="1.15" fill="#2a2a2a"/>
<rect x="418.20" y="423.80" width="4.60" height="4.60" fill="#a50d2c"/>
<text x="425.90" y="428.60" font-size="8.22" stroke-width="0.181" textLength="19.70" lengthAdjust="spacingAndGlyphs">No Tet</text>
<rect x="418.20" y="435.60" width="4.60" height="4.60" fill="#2f4b7e"/>
<text x="425.90" y="440.70" font-size="8.22" stroke-width="0.181" textLength="9.50" lengthAdjust="spacingAndGlyphs">Tet</text>
<line x1="52.90" y1="555.10" x2="52.90" y2="635.30" stroke="#1a1a1a" stroke-width="1.1"/>
<line x1="49.90" y1="634.80" x2="52.90" y2="634.80" stroke="#1a1a1a" stroke-width="0.9900000000000001"/>
<text x="43.07" y="637.65" font-size="8.3" stroke-width="0.183" textLength="4.03" lengthAdjust="spacingAndGlyphs">0</text>
<line x1="49.90" y1="598.67" x2="52.90" y2="598.67" stroke="#1a1a1a" stroke-width="0.9900000000000001"/>
<text x="39.03" y="601.52" font-size="8.3" stroke-width="0.183" textLength="8.07" lengthAdjust="spacingAndGlyphs">50</text>
<line x1="49.90" y1="562.54" x2="52.90" y2="562.54" stroke="#1a1a1a" stroke-width="0.9900000000000001"/>
<text x="35.00" y="565.39" font-size="8.3" stroke-width="0.183" textLength="12.10" lengthAdjust="spacingAndGlyphs">100</text>
<line x1="52.40" y1="634.80" x2="176.10" y2="634.80" stroke="#1a1a1a" stroke-width="1.25"/>
<line x1="52.90" y1="634.80" x2="52.90" y2="638.20" stroke="#1a1a1a" stroke-width="1.125"/>
<line x1="82.90" y1="634.80" x2="82.90" y2="638.20" stroke="#1a1a1a" stroke-width="1.125"/>
<line x1="112.90" y1="634.80" x2="112.90" y2="638.20" stroke="#1a1a1a" stroke-width="1.125"/>
<line x1="142.90" y1="634.80" x2="142.90" y2="638.20" stroke="#1a1a1a" stroke-width="1.125"/>
<line x1="172.90" y1="634.80" x2="172.90" y2="638.20" stroke="#1a1a1a" stroke-width="1.125"/>
<text x="50.73" y="648.50" font-size="8.3" stroke-width="0.183" textLength="4.34" lengthAdjust="spacingAndGlyphs">0</text>
<text x="78.56" y="648.50" font-size="8.3" stroke-width="0.183" textLength="8.68" lengthAdjust="spacingAndGlyphs">10</text>
<text x="108.56" y="648.50" font-size="8.3" stroke-width="0.183" textLength="8.68" lengthAdjust="spacingAndGlyphs">20</text>
<text x="138.56" y="648.50" font-size="8.3" stroke-width="0.183" textLength="8.68" lengthAdjust="spacingAndGlyphs">30</text>
<text x="168.56" y="648.50" font-size="8.3" stroke-width="0.183" textLength="8.68" lengthAdjust="spacingAndGlyphs">40</text>
<text x="95.00" y="549.30" font-size="9.41" stroke-width="0.207" textLength="39.30" lengthAdjust="spacingAndGlyphs">HL60-NLS</text>
<text x="58.30" y="629.00" font-size="7.17" stroke-width="0.158" textLength="31.50" lengthAdjust="spacingAndGlyphs">p=0.0047</text>
<text x="87.90" y="661.70" font-size="10.16" stroke-width="0.224" textLength="18.50" lengthAdjust="spacingAndGlyphs">Days</text>
<text x="109.40" y="661.70" font-size="10.16" stroke-width="0.224" textLength="31.20" lengthAdjust="spacingAndGlyphs">elapsed</text>
<text x="26.90" y="627.00" font-size="9.71" stroke-width="0.214" textLength="64.10" lengthAdjust="spacingAndGlyphs" transform="rotate(-90 26.90 627.00)">Percent survival</text>
<path d="M53.50,562.54 H130.90 V580.60 H133.90 V598.67 H136.90 V616.73 H142.90 V634.80" fill="none" stroke="#b01e3c" stroke-width="1.25" stroke-linejoin="miter"/>
<path d="M124.90,562.54 H124.90 V634.80" fill="none" stroke="#2f4b8e" stroke-width="1.2" stroke-dasharray="3,2.4" stroke-dashoffset="1.9"/>
<line x1="159.90" y1="564.30" x2="169.50" y2="564.30" stroke="#b01e3c" stroke-width="1.1"/>
<path d="M163.70,564.50 L164.70,563.00 L165.70,564.50Z" fill="#b01e3c"/>
<text x="172.80" y="566.00" font-size="7.62" stroke-width="0.168" textLength="19.50" lengthAdjust="spacingAndGlyphs">No Tet</text>
<line x1="159.90" y1="576.00" x2="161.40" y2="576.00" stroke="#2f4b8e" stroke-width="1.1"/>
<line x1="163.50" y1="576.00" x2="165.40" y2="576.00" stroke="#2f4b8e" stroke-width="1.1"/>
<line x1="167.60" y1="576.00" x2="169.20" y2="576.00" stroke="#2f4b8e" stroke-width="1.1"/>
<path d="M163.60,576.40 L164.50,574.70 L165.40,576.40Z" fill="#2f4b8e"/>
<text x="172.80" y="578.20" font-size="7.62" stroke-width="0.168" textLength="8.90" lengthAdjust="spacingAndGlyphs">Tet</text>
<line x1="245.60" y1="555.10" x2="245.60" y2="635.30" stroke="#1a1a1a" stroke-width="1.1"/>
<line x1="242.60" y1="634.80" x2="245.60" y2="634.80" stroke="#1a1a1a" stroke-width="0.9900000000000001"/>
<text x="235.77" y="637.65" font-size="8.3" stroke-width="0.183" textLength="4.03" lengthAdjust="spacingAndGlyphs">0</text>
<line x1="242.60" y1="598.67" x2="245.60" y2="598.67" stroke="#1a1a1a" stroke-width="0.9900000000000001"/>
<text x="231.73" y="601.52" font-size="8.3" stroke-width="0.183" textLength="8.07" lengthAdjust="spacingAndGlyphs">50</text>
<line x1="242.60" y1="562.54" x2="245.60" y2="562.54" stroke="#1a1a1a" stroke-width="0.9900000000000001"/>
<text x="227.70" y="565.39" font-size="8.3" stroke-width="0.183" textLength="12.10" lengthAdjust="spacingAndGlyphs">100</text>
<line x1="245.10" y1="634.80" x2="368.80" y2="634.80" stroke="#1a1a1a" stroke-width="1.25"/>
<line x1="245.60" y1="634.80" x2="245.60" y2="638.20" stroke="#1a1a1a" stroke-width="1.125"/>
<line x1="275.60" y1="634.80" x2="275.60" y2="638.20" stroke="#1a1a1a" stroke-width="1.125"/>
<line x1="305.60" y1="634.80" x2="305.60" y2="638.20" stroke="#1a1a1a" stroke-width="1.125"/>
<line x1="335.60" y1="634.80" x2="335.60" y2="638.20" stroke="#1a1a1a" stroke-width="1.125"/>
<line x1="365.60" y1="634.80" x2="365.60" y2="638.20" stroke="#1a1a1a" stroke-width="1.125"/>
<text x="243.43" y="648.50" font-size="8.3" stroke-width="0.183" textLength="4.34" lengthAdjust="spacingAndGlyphs">0</text>
<text x="271.26" y="648.50" font-size="8.3" stroke-width="0.183" textLength="8.68" lengthAdjust="spacingAndGlyphs">10</text>
<text x="301.26" y="648.50" font-size="8.3" stroke-width="0.183" textLength="8.68" lengthAdjust="spacingAndGlyphs">20</text>
<text x="331.26" y="648.50" font-size="8.3" stroke-width="0.183" textLength="8.68" lengthAdjust="spacingAndGlyphs">30</text>
<text x="361.26" y="648.50" font-size="8.3" stroke-width="0.183" textLength="8.68" lengthAdjust="spacingAndGlyphs">40</text>
<text x="257.90" y="549.30" font-size="9.41" stroke-width="0.207" textLength="99.10" lengthAdjust="spacingAndGlyphs">HL60-NLS Daunorubicin</text>
<text x="251.00" y="629.00" font-size="7.17" stroke-width="0.158" textLength="31.30" lengthAdjust="spacingAndGlyphs">p=0.0041</text>
<text x="280.80" y="661.70" font-size="10.16" stroke-width="0.224" textLength="18.50" lengthAdjust="spacingAndGlyphs">Days</text>
<text x="302.30" y="661.70" font-size="10.16" stroke-width="0.224" textLength="31.20" lengthAdjust="spacingAndGlyphs">elapsed</text>
<text x="220.00" y="627.00" font-size="9.71" stroke-width="0.214" textLength="64.10" lengthAdjust="spacingAndGlyphs" transform="rotate(-90 220.00 627.00)">Percent survival</text>
<path d="M246.20,562.54 H329.60 V576.99 H335.60 V591.44 H344.60 V620.35 H356.60 V634.80" fill="none" stroke="#b01e3c" stroke-width="1.25" stroke-linejoin="miter"/>
<path d="M323.60,562.54 H323.60 V605.90 H326.60 V620.35 H329.60 V634.80" fill="none" stroke="#2f4b8e" stroke-width="1.2" stroke-dasharray="3,2.4" stroke-dashoffset="1.9"/>
<line x1="365.80" y1="563.70" x2="375.40" y2="563.70" stroke="#b01e3c" stroke-width="1.1"/>
<path d="M369.60,563.90 L370.60,562.40 L371.60,563.90Z" fill="#b01e3c"/>
<text x="378.70" y="565.40" font-size="7.62" stroke-width="0.168" textLength="19.50" lengthAdjust="spacingAndGlyphs">No Tet</text>
<line x1="365.80" y1="575.40" x2="367.30" y2="575.40" stroke="#2f4b8e" stroke-width="1.1"/>
<line x1="369.40" y1="575.40" x2="371.30" y2="575.40" stroke="#2f4b8e" stroke-width="1.1"/>
<line x1="373.50" y1="575.40" x2="375.10" y2="575.40" stroke="#2f4b8e" stroke-width="1.1"/>
<path d="M369.50,575.80 L370.40,574.10 L371.30,575.80Z" fill="#2f4b8e"/>
<text x="378.70" y="577.60" font-size="7.62" stroke-width="0.168" textLength="8.90" lengthAdjust="spacingAndGlyphs">Tet</text>
<rect x="0" y="0" width="520" height="1.4" fill="#202020"/>
<rect x="0" y="669.6" width="520" height="1.4" fill="#202020"/>
<rect x="0" y="0" width="1.4" height="671" fill="#202020"/>
<rect x="518.6" y="0" width="1.4" height="671" fill="#202020"/>
</svg>
</body></html>
